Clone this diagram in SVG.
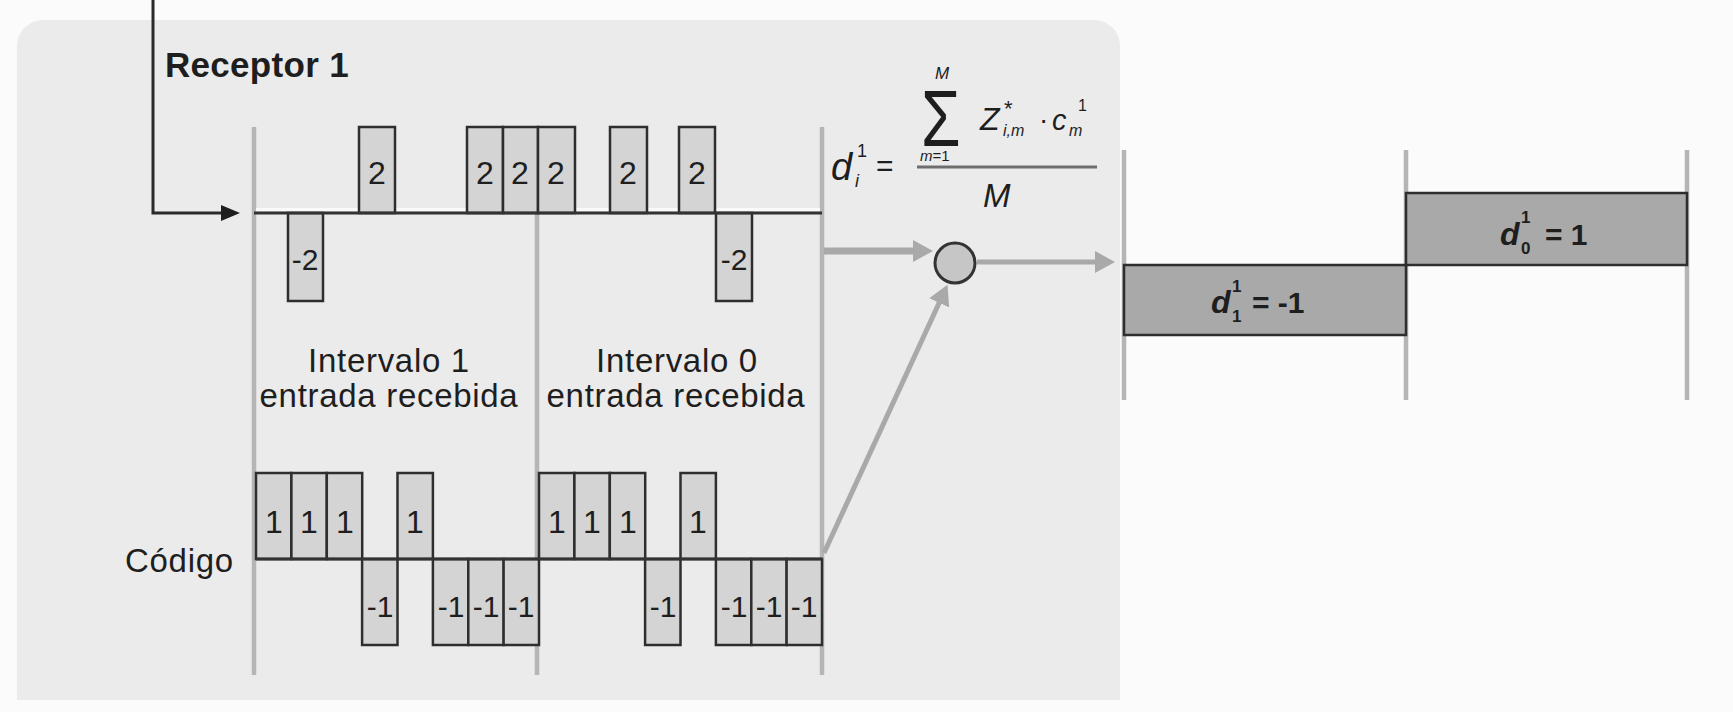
<svg xmlns="http://www.w3.org/2000/svg" width="1733" height="712" viewBox="0 0 1733 712">
  <style>
    text { font-family: "Liberation Sans", Arial, sans-serif; fill: #1e1e1e; }
    .lbl { font-size: 33px; letter-spacing: 0.7px; }
    .chip { fill: #d4d4d4; stroke: #2e2e2e; stroke-width: 2.5; }
    .res { fill: #a9a9a9; stroke: #2e2e2e; stroke-width: 2.5; }
    .num { font-size: 32px; text-anchor: middle; }
    .neg { font-size: 30px; text-anchor: middle; }
    .div { stroke: #b5b5b5; stroke-width: 4.5; fill: none; }
    .base { stroke: #333; stroke-width: 3; fill: none; }
    .it { font-style: italic; }
    .gray { stroke: #a9a9a9; fill: none; }
  </style>
  <defs>
    <marker id="headGray" markerUnits="userSpaceOnUse" markerWidth="22" markerHeight="24" refX="2" refY="12" orient="auto">
      <path d="M0,1 L20,12 L0,23 Z" fill="#a9a9a9"/>
    </marker>
    <marker id="headBlack" markerUnits="userSpaceOnUse" markerWidth="20" markerHeight="18" refX="2" refY="9" orient="auto">
      <path d="M0,1 L19,9 L0,17 Z" fill="#1e1e1e"/>
    </marker>
  </defs>

  <!-- page -->
  <rect x="0" y="0" width="1733" height="712" fill="#fbfbfb"/>

  <!-- receiver panel -->
  <g id="panel">
    <path d="M17,700 L17,46 A26,26 0 0 1 43,20 L1094,20 A26,26 0 0 1 1120,46 L1120,700 Z" fill="#ebebeb"/>
    <text x="165" y="77" font-size="35" font-weight="bold" letter-spacing="0.3">Receptor 1</text>
  </g>

  <!-- interval dividers -->
  <g id="dividers">
    <line class="div" x1="254" y1="127" x2="254" y2="675"/>
    <line class="div" x1="537" y1="213" x2="537" y2="675"/>
    <line class="div" x1="822" y1="127" x2="822" y2="675"/>
  </g>

  <!-- received signal Z -->
  <g id="received">
    <line x1="256" y1="209.5" x2="820" y2="209.5" stroke="#fafafa" stroke-width="3"/>
    <rect class="chip" x="288" y="213" width="35" height="88"/>
    <rect class="chip" x="359" y="127" width="36" height="86"/>
    <rect class="chip" x="467" y="127" width="36" height="86"/>
    <rect class="chip" x="503" y="127" width="35" height="86"/>
    <rect class="chip" x="538" y="127" width="37" height="86"/>
    <rect class="chip" x="610" y="127" width="37" height="86"/>
    <rect class="chip" x="679" y="127" width="36" height="86"/>
    <rect class="chip" x="716" y="213" width="36" height="88"/>
    <line class="base" x1="254" y1="213" x2="822" y2="213"/>
    <text class="neg" x="305" y="270">-2</text>
    <text class="num" x="377" y="184">2</text>
    <text class="num" x="485" y="184">2</text>
    <text class="num" x="520" y="184">2</text>
    <text class="num" x="556" y="184">2</text>
    <text class="num" x="628" y="184">2</text>
    <text class="num" x="697" y="184">2</text>
    <text class="neg" x="734" y="270">-2</text>
  </g>

  <!-- interval captions -->
  <g id="captions">
    <text class="lbl" x="389" y="372" text-anchor="middle">Intervalo 1</text>
    <text class="lbl" x="389" y="407" text-anchor="middle">entrada recebida</text>
    <text class="lbl" x="677" y="372" text-anchor="middle">Intervalo 0</text>
    <text class="lbl" x="676" y="407" text-anchor="middle">entrada recebida</text>
  </g>

  <!-- spreading code -->
  <g id="code">
    <text class="lbl" x="125" y="572">Código</text>
    <!-- interval 1 -->
    <rect class="chip" x="256" y="473" width="35.4" height="86"/>
    <rect class="chip" x="291.4" y="473" width="35.4" height="86"/>
    <rect class="chip" x="326.8" y="473" width="35.4" height="86"/>
    <rect class="chip" x="362.1" y="559" width="35.4" height="86"/>
    <rect class="chip" x="397.5" y="473" width="35.4" height="86"/>
    <rect class="chip" x="432.9" y="559" width="35.4" height="86"/>
    <rect class="chip" x="468.3" y="559" width="35.4" height="86"/>
    <rect class="chip" x="503.6" y="559" width="35.4" height="86"/>
    <!-- interval 0 -->
    <rect class="chip" x="539" y="473" width="35.4" height="86"/>
    <rect class="chip" x="574.4" y="473" width="35.4" height="86"/>
    <rect class="chip" x="609.8" y="473" width="35.4" height="86"/>
    <rect class="chip" x="645.1" y="559" width="35.4" height="86"/>
    <rect class="chip" x="680.5" y="473" width="35.4" height="86"/>
    <rect class="chip" x="715.9" y="559" width="35.4" height="86"/>
    <rect class="chip" x="751.3" y="559" width="35.4" height="86"/>
    <rect class="chip" x="786.6" y="559" width="35.4" height="86"/>
    <line class="base" x1="256" y1="559" x2="822" y2="559" stroke-width="2.5"/>
    <text class="num" x="274" y="533">1</text>
    <text class="num" x="309" y="533">1</text>
    <text class="num" x="345" y="533">1</text>
    <text class="neg" x="380" y="617">-1</text>
    <text class="num" x="415" y="533">1</text>
    <text class="neg" x="451" y="617">-1</text>
    <text class="neg" x="486" y="617">-1</text>
    <text class="neg" x="521" y="617">-1</text>
    <text class="num" x="557" y="533">1</text>
    <text class="num" x="592" y="533">1</text>
    <text class="num" x="628" y="533">1</text>
    <text class="neg" x="663" y="617">-1</text>
    <text class="num" x="698" y="533">1</text>
    <text class="neg" x="734" y="617">-1</text>
    <text class="neg" x="769" y="617">-1</text>
    <text class="neg" x="804" y="617">-1</text>
  </g>

  <!-- correlator formula -->
  <g id="formula">
    <text class="it" x="831" y="180" font-size="38">d</text>
    <text x="857" y="157" font-size="18">1</text>
    <text class="it" x="855" y="187" font-size="18">i</text>
    <text x="876" y="176" font-size="30">=</text>
    <text x="935" y="79" font-size="17" class="it">M</text>
    <text transform="translate(921,146) scale(1,1.25)" font-size="64">Σ</text>
    <text x="920" y="161" font-size="15"><tspan class="it">m</tspan>=1</text>
    <text class="it" x="980" y="130" font-size="32">Z</text>
    <text x="1004" y="116" font-size="22">*</text>
    <text class="it" x="1003" y="136" font-size="16">i,m</text>
    <text x="1039" y="129" font-size="28">·</text>
    <text class="it" x="1052" y="130" font-size="29">c</text>
    <text x="1078" y="111" font-size="16">1</text>
    <text class="it" x="1069" y="136" font-size="16">m</text>
    <line x1="917" y1="167" x2="1097" y2="167" stroke="#6e6e6e" stroke-width="3"/>
    <text class="it" x="983" y="207" font-size="33">M</text>
  </g>

  <!-- summing node -->
  <g id="correlator">
    <circle cx="955" cy="263" r="20" fill="#c6c6c6" stroke="#333" stroke-width="3"/>
  </g>

  <!-- decoded bits -->
  <g id="output">
    <line class="div" x1="1124" y1="150" x2="1124" y2="400"/>
    <line class="div" x1="1406" y1="150" x2="1406" y2="400"/>
    <line class="div" x1="1687" y1="150" x2="1687" y2="400"/>
    <rect class="res" x="1124" y="265" width="282" height="70"/>
    <rect class="res" x="1406" y="193" width="281" height="72"/>
    <g font-weight="bold">
      <text class="it" x="1211" y="313" font-size="32">d</text>
      <text x="1232" y="292" font-size="17">1</text>
      <text x="1232" y="322" font-size="17">1</text>
      <text x="1252" y="313" font-size="30">= -1</text>
      <text class="it" x="1500" y="245" font-size="32">d</text>
      <text x="1521" y="223" font-size="17">1</text>
      <text x="1521" y="254" font-size="17">0</text>
      <text x="1545" y="245" font-size="30">= 1</text>
    </g>
  </g>

  <!-- connectors -->
  <g id="connectors">
    <polyline points="153,0 153,213 223,213" fill="none" stroke="#2a2a2a" stroke-width="3" marker-end="url(#headBlack)"/>
    <line class="gray" x1="824" y1="251" x2="915" y2="251" stroke-width="7" marker-end="url(#headGray)"/>
    <line class="gray" x1="977" y1="262" x2="1097" y2="262" stroke-width="5" marker-end="url(#headGray)"/>
    <line class="gray" x1="824" y1="553" x2="940" y2="301" stroke-width="5" marker-end="url(#headGray)"/>
  </g>
</svg>
